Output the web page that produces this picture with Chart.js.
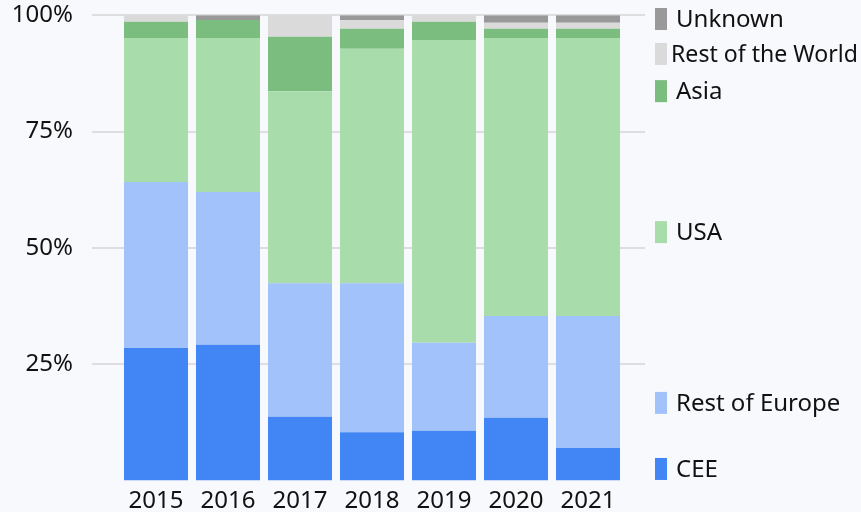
<!DOCTYPE html>
<html>
<head>
<meta charset="utf-8">
<script src="https://cdn.jsdelivr.net/npm/chart.js@4"></script>
<style>
  html, body { margin: 0; padding: 0; background: #f8f9fd; }
  #wrap { width: 861px; height: 512px; }
</style>
</head>
<body>
<div id="wrap"><canvas id="barChart" width="861" height="512"></canvas></div>
<script>
var years = ['2015', '2016', '2017', '2018', '2019', '2020', '2021'];
var seriesNames = ['CEE', 'Rest of Europe', 'USA', 'Asia', 'Rest of the World', 'Unknown'];
var cee          = [28.5, 29.2, 13.7, 10.4, 10.7, 13.5, 7.0];
var restOfEurope = [35.7, 32.8, 28.7, 32.0, 18.9, 21.9, 28.4];
var usa          = [30.9, 33.1, 41.3, 50.4, 65.1, 59.7, 59.7];
var asia         = [3.5, 3.9, 11.7, 4.3, 3.9, 2.0, 2.0];
var restOfWorld  = [1.4, 0, 4.6, 1.9, 1.4, 1.3, 1.3];
var unknown      = [0, 1.0, 0, 1.0, 0, 1.6, 1.6];
var yTicks = [25, 50, 75, 100];
// where each legend label sits, in % on the y axis
var legendPos = [2.5, 16.7, 53.4, 83.7, 91.7, 99.2];

var colores = ['#4285f4', '#a1c2fa', '#a8dcab', '#7bbc7f', '#dadada', '#999999'];
var fuente = '"Noto Sans", sans-serif';

var valores = [cee, restOfEurope, usa, asia, restOfWorld, unknown];
var datasets = seriesNames.map(function (nombre, i) {
    return {
        label: nombre,
        data: valores[i],
        backgroundColor: colores[i],
        borderWidth: 0,
        barPercentage: 0.889,
        categoryPercentage: 1.0
    };
});

// fija el tamaño de cada eje
function fijarEje(ancho, alto) {
    return function (axis) {
        if (ancho !== null) axis.width = ancho;
        if (alto !== null) axis.height = alto;
        axis.paddingTop = 0;
        axis.paddingBottom = 0;
        axis.paddingLeft = 0;
        axis.paddingRight = 0;
    };
}

// leyenda a la derecha, alineada con las series
var leyendaLateral = {
    id: 'leyendaLateral',
    afterDraw: function (chart) {
        var ctx = chart.ctx;
        var y = chart.scales.y;
        ctx.save();
        ctx.font = '24px ' + fuente;
        ctx.textBaseline = 'middle';
        seriesNames.forEach(function (nombre, i) {
            var py = y.getPixelForValue(legendPos[i]);
            ctx.fillStyle = colores[i];
            ctx.fillRect(655, py - 11, 12, 22);
            var w = ctx.measureText(nombre).width;
            ctx.fillStyle = '#111';
            if (676 + w > 859) {
                // no cabe: se comprime un poco
                ctx.fillText(nombre, 671, py + 1, 187);
            } else {
                ctx.fillText(nombre, 676, py + 1);
            }
        });
        ctx.restore();
    }
};

var ctx = document.getElementById('barChart').getContext('2d');
var grafica = new Chart(ctx, {
    type: 'bar',
    data: { labels: years, datasets: datasets },
    options: {
        responsive: false,
        animation: false,
        layout: { padding: { left: 13, right: 216, top: 15.3, bottom: 0 } },
        plugins: { legend: { display: false }, tooltip: { enabled: false } },
        scales: {
            x: {
                stacked: true,
                afterFit: fijarEje(null, 31.4),
                grid: { display: false, drawTicks: false },
                border: { display: false },
                ticks: { color: '#111', padding: 6, font: { family: fuente, size: 24 } }
            },
            y: {
                stacked: true,
                min: 0,
                max: 100,
                afterFit: fijarEje(107, null),
                afterBuildTicks: function (axis) {
                    axis.ticks = yTicks.map(function (v) { return { value: v }; });
                },
                grid: { color: '#dedede', lineWidth: 2, tickLength: 28 },
                border: { display: false },
                ticks: {
                    color: '#111',
                    padding: 19,
                    font: { family: fuente, size: 24 },
                    callback: function (v) { return v + '%'; }
                }
            },
            y2: {
                position: 'right',
                min: 0,
                max: 100,
                afterFit: fijarEje(21, null),
                afterBuildTicks: function (axis) {
                    axis.ticks = yTicks.map(function (v) { return { value: v }; });
                },
                grid: { color: '#dedede', lineWidth: 2, tickLength: 21, drawOnChartArea: false },
                border: { display: false },
                ticks: { display: false }
            }
        }
    },
    plugins: [leyendaLateral]
});
</script>
</body>
</html>
